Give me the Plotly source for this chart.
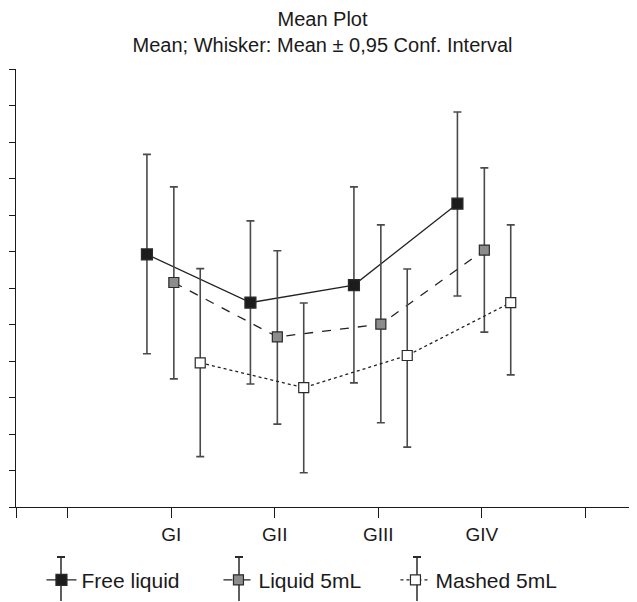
import plotly.graph_objects as go

groups = ["GI", "GII", "GIII", "GIV"]
group_pos = [1, 2, 3, 4]
tick_vals = [-0.5, 0, 1, 2, 3, 4, 5]
tick_text = ["", "", "GI", "GII", "GIII", "GIV", ""]

series_names = ["Free liquid", "Liquid 5mL", "Mashed 5mL"]
series_offset = [-0.235, 0.025, 0.28]

free_mean = [6.92, 5.60, 6.08, 8.31]
free_upper = [9.66, 7.84, 8.77, 10.82]
free_lower = [4.20, 3.37, 3.40, 5.78]

liquid_mean = [6.15, 4.66, 5.01, 7.04]
liquid_upper = [8.77, 7.02, 7.73, 9.29]
liquid_lower = [3.51, 2.27, 2.31, 4.79]

mashed_mean = [3.95, 3.27, 4.15, 5.60]
mashed_upper = [6.53, 5.59, 6.52, 7.73]
mashed_lower = [1.38, 0.94, 1.64, 3.62]

means = [free_mean, liquid_mean, mashed_mean]
uppers = [free_upper, liquid_upper, mashed_upper]
lowers = [free_lower, liquid_lower, mashed_lower]
dashes = ["solid", "dash", "dot"]
fills = ["#1c1c1c", "#8c8c8c", "#ffffff"]
sizes = [11, 10, 10]

# figure geometry (page has an 8px body margin)
W, H = 629, 594
ML, MR, MT, MB = 8, 0, 61, 95
PW, PH = W - ML - MR, H - MT - MB

fig = go.Figure()
for i in range(3):
    xs = [g + series_offset[i] for g in group_pos]
    fig.add_trace(go.Scatter(
        x=xs, y=means[i], name=series_names[i], mode="lines+markers",
        line=dict(color="#222222", width=1.3, dash=dashes[i]),
        marker=dict(symbol="square", size=sizes[i], color=fills[i],
                    line=dict(color="#2a2a2a", width=1.2)),
        error_y=dict(type="data", symmetric=False,
                     array=[u - m for u, m in zip(uppers[i], means[i])],
                     arrayminus=[m - l for m, l in zip(means[i], lowers[i])],
                     color="#4a4a4a", thickness=1.6, width=4),
    ))

# legend layout constants (pixels relative to plot area)
leg_x0 = 0.041
leg_pitch = 178
leg_first_marker = 45      # px from plot-area left edge to first legend marker
leg_whisker_top = 50       # px below plot-area bottom
leg_whisker_bot = 94
shapes = []
for i in range(3):
    xm = (leg_first_marker + i * leg_pitch) / PW
    yt = -leg_whisker_top / PH
    yb = -leg_whisker_bot / PH
    shapes.append(dict(type="line", xref="paper", yref="paper", x0=xm, x1=xm,
                       y0=yt, y1=yb, line=dict(color="#2a2a2a", width=1.5)))
    shapes.append(dict(type="line", xref="paper", yref="paper",
                       x0=xm - 4 / PW, x1=xm + 4 / PW, y0=yt, y1=yt,
                       line=dict(color="#2a2a2a", width=2)))

fig.update_layout(
    width=W, height=H,
    margin=dict(l=ML, r=MR, t=MT, b=MB),
    paper_bgcolor="white", plot_bgcolor="white",
    font=dict(family="Liberation Sans, Arial, sans-serif", color="#1a1a1a", size=19),
    title=dict(text="Mean Plot<br>Mean; Whisker: Mean ± 0,95 Conf. Interval",
               x=0.5, xanchor="center", y=0.970, yanchor="top",
               font=dict(size=20)),
    showlegend=True,
    legend=dict(orientation="h", x=leg_x0, xanchor="left", y=-0.167, yanchor="middle",
                font=dict(size=21), bgcolor="rgba(0,0,0,0)",
                entrywidth=leg_pitch - 46, entrywidthmode="pixels"),
    xaxis=dict(range=[-0.5, 5.5], tickvals=tick_vals, ticktext=tick_text,
               ticks="outside", ticklen=10, tickwidth=1.2, tickcolor="#1a1a1a",
               showline=True, linecolor="#1a1a1a", linewidth=1.2,
               showgrid=False, zeroline=False, tickfont=dict(size=19)),
    yaxis=dict(range=[0, 12], tickvals=list(range(13)), showticklabels=False,
               ticks="outside", ticklen=6, tickwidth=1.2, tickcolor="#1a1a1a",
               showline=True, linecolor="#1a1a1a", linewidth=1.2,
               showgrid=False, zeroline=False),
    shapes=shapes,
)

fig.write_html("out.html")
